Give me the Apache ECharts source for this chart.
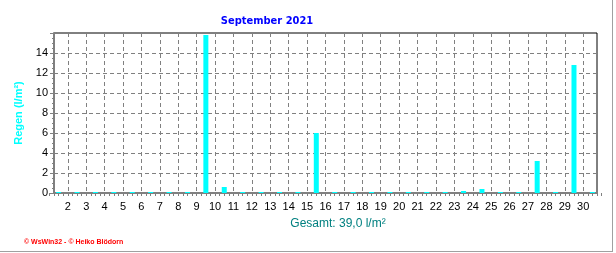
<!DOCTYPE html>
<html><head><meta charset="utf-8">
<script src="https://cdn.jsdelivr.net/npm/echarts@6/dist/echarts.min.js"></script>
<style>
html,body{margin:0;padding:0;background:#fff;}
#wrap{position:relative;width:616px;height:253px;}
#chart{position:absolute;left:0;top:0;width:616px;height:253px;}
#frame{position:absolute;left:0;top:0;width:612px;height:251px;border-right:1px solid #a0a0a0;border-bottom:1px solid #a0a0a0;pointer-events:none;}
</style></head>
<body><div id="wrap"><div id="chart"></div><div id="frame"></div></div>
<script>
const titleText = 'September 2021';
const yAxisTitle = 'Regen (l/m²)';
const totalText = 'Gesamt: 39,0 l/m²';
const footerText = '© WsWin32 - © Heiko Blödorn';
const days = [1,2,3,4,5,6,7,8,9,10,11,12,13,14,15,16,17,18,19,20,21,22,23,24,25,26,27,28,29,30];
const rain = [0,0,0,0,0,0,0,0,15.8,0.6,0,0,0,0,6.0,0,0,0,0,0,0,0,0.2,0.4,0,0,3.2,0,12.8,0];
const xTickLabels = ['2','3','4','5','6','7','8','9','10','11','12','13','14','15','16','17','18','19','20','21','22','23','24','25','26','27','28','29','30'];
const yTickLabels = ['0','2','4','6','8','10','12','14'];

const gray = '#808080';
const font = 'Liberation Sans, Arial, sans-serif';
const chart = echarts.init(document.getElementById('chart'), null, {renderer:'canvas'});
chart.setOption({
  animation:false,
  backgroundColor:'#fff',
  title:[
    {text:titleText, left:262, top:11, textAlign:'center', textStyle:{color:'#0000ff', fontWeight:'bold', fontSize:11, fontFamily:'DejaVu Sans Condensed, Liberation Sans Narrow, Liberation Sans, sans-serif'}},
    {text:totalText, left:333, top:213, textAlign:'center', textStyle:{color:'#008080', fontWeight:'normal', fontSize:12, fontFamily:font}},
    {text:footerText, left:19, top:234, textStyle:{color:'#ff0000', fontWeight:'bold', fontSize:7, fontFamily:font}}
  ],
  grid:[
    {left:54, right:19, top:33, bottom:60, show:true, borderColor:'#000', borderWidth:1, backgroundColor:'transparent'},
    {left:49.4, right:14.4, top:33, bottom:60}
  ],
  xAxis:[
    {gridIndex:0, type:'value', min:0, max:1, position:'bottom',
     axisLine:{show:true, onZero:false, lineStyle:{color:gray, width:2}},
     axisTick:{show:false}, axisLabel:{show:false}, splitLine:{show:false}},
    {gridIndex:1, type:'value', min:1, max:31, interval:1, position:'bottom',
     axisLine:{show:false},
     axisTick:{show:true, length:3, lineStyle:{color:gray}},
     minorTick:{show:true, splitNumber:4, length:3, lineStyle:{color:gray}},
     axisLabel:{show:true, margin:8, color:'#000', fontSize:11, fontFamily:font,
       formatter:v => { const s = String(Math.round(v)); return xTickLabels.indexOf(s) >= 0 ? s : ''; }},
     splitLine:{show:true, showMinLine:false, showMaxLine:false, lineStyle:{color:gray, type:[4,3], width:1}}}
  ],
  yAxis:[
    {gridIndex:0, type:'value', min:0, max:16, interval:2,
     name:yAxisTitle, nameLocation:'middle', nameGap:29, nameRotate:90,
     nameTextStyle:{color:'#00ffff', fontWeight:'bold', fontSize:11, fontFamily:font},
     axisLine:{show:true, lineStyle:{color:gray, width:2}},
     axisTick:{show:true, length:4, lineStyle:{color:gray}},
     minorTick:{show:true, splitNumber:4, length:2, lineStyle:{color:gray}},
     axisLabel:{margin:6, color:'#000', fontSize:11, fontFamily:font,
       formatter:v => { const s = String(v); return yTickLabels.indexOf(s) >= 0 ? s : ''; }},
     splitLine:{show:true, showMinLine:false, showMaxLine:false, lineStyle:{color:gray, type:[4,3], width:1}}},
    {gridIndex:1, type:'value', min:0, max:16, show:false}
  ],
  series:[{
    type:'bar', xAxisIndex:1, yAxisIndex:1,
    barWidth:5, barMinHeight:1,
    itemStyle:{color:'#00ffff'},
    data: days.map((d,i) => [d + 0.5, rain[i]]),
    z:5
  }]
});
</script></body></html>
